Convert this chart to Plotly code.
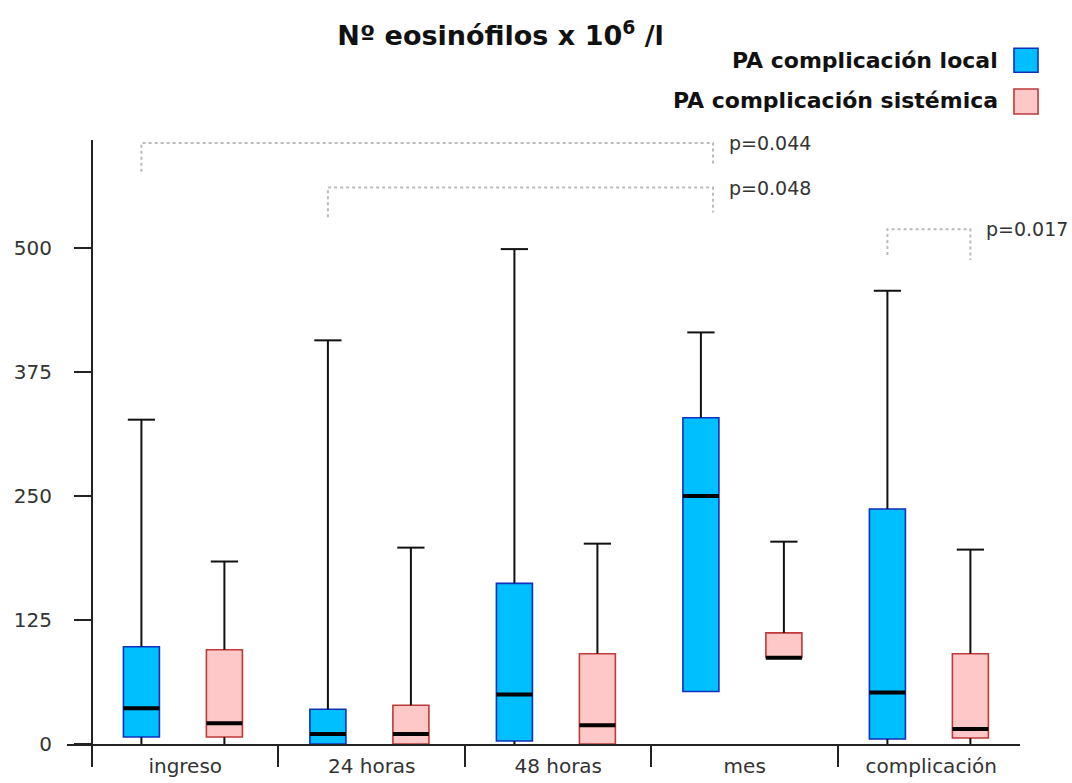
import plotly.graph_objects as go

# ---------------- data ----------------
categories = ["ingreso", "24 horas", "48 horas", "mes", "complicación"]
series_names = ["PA complicación local", "PA complicación sistémica"]

local_low = [0, 0, 0, 53, 0]
local_q1 = [7, 0, 3, 53, 5]
local_median = [36, 10, 50, 250, 52]
local_q3 = [98, 35, 162, 329, 237]
local_high = [327, 407, 499, 415, 457]

sist_low = [0, 0, 0, 87, 0]
sist_q1 = [7, 0, 0, 87, 6]
sist_median = [21, 10, 19, 87, 15]
sist_q3 = [95, 39, 91, 112, 91]
sist_high = [184, 198, 202, 204, 196]

y_tickvals = [0, 125, 250, 375, 500]

# significance brackets: (left category idx, left series idx, right x, top, left leg end, right leg end, label)
brackets = [
    (0, 0, 2.83, 606, 577, 584, "p=0.044"),
    (1, 0, 2.83, 561, 531, 536, "p=0.048"),
    (4, 0, None, 519, 493, 488, "p=0.017"),
]

# ---------------- styling ----------------
fills = ["#00BFFF", "#FFC8C8"]
outlines = ["#1030C0", "#C03838"]
offsets = [-0.235, 0.21]
box_w = 0.193
cap_half = 0.073

series = [
    (local_low, local_q1, local_median, local_q3, local_high),
    (sist_low, sist_q1, sist_median, sist_q3, sist_high),
]

fig = go.Figure()

# whiskers
for s, (lo, q1, med, q3, hi) in enumerate(series):
    xs, ys = [], []
    for i in range(len(categories)):
        x = i + offsets[s]
        xs += [x, x, None, x - cap_half, x + cap_half, None]
        ys += [q3[i], hi[i], None, hi[i], hi[i], None]
        if lo[i] < q1[i]:
            xs += [x, x, None]
            ys += [lo[i], q1[i], None]
    fig.add_trace(go.Scatter(x=xs, y=ys, mode="lines",
                             line=dict(color="#111111", width=2),
                             showlegend=False, hoverinfo="skip"))

# boxes
for s, (lo, q1, med, q3, hi) in enumerate(series):
    xs = [i + offsets[s] for i in range(len(categories))]
    fig.add_trace(go.Bar(x=xs, base=q1, y=[b - a for a, b in zip(q1, q3)],
                         width=box_w, name=series_names[s],
                         marker=dict(color=fills[s], line=dict(color=outlines[s], width=1.6)),
                         showlegend=False))

# medians
for s, (lo, q1, med, q3, hi) in enumerate(series):
    xs, ys = [], []
    for i in range(len(categories)):
        x = i + offsets[s]
        xs += [x - box_w / 2, x + box_w / 2, None]
        ys += [med[i], med[i], None]
    fig.add_trace(go.Scatter(x=xs, y=ys, mode="lines",
                             line=dict(color="#000000", width=4),
                             showlegend=False, hoverinfo="skip"))

# significance brackets
annotations = []
for (ci, si, xr, top, lleg, rleg, label) in brackets:
    xl = ci + offsets[si]
    if xr is None:
        xr = ci + offsets[1]
    fig.add_trace(go.Scatter(x=[xl, xl, xr, xr], y=[lleg, top, top, rleg], mode="lines",
                             line=dict(color="#BBBBBB", width=2, dash="dot"),
                             showlegend=False, hoverinfo="skip", cliponaxis=False))
    annotations.append(dict(x=xr, y=top, xref="x", yref="y", text=label, showarrow=False,
                            xanchor="left", yanchor="middle", xshift=14,
                            font=dict(family="DejaVu Sans", size=19, color="#333333")))

# legend (text on left, swatch on right)
leg_y = [1.131, 1.066]
for s in range(2):
    annotations.append(dict(x=0.979, y=leg_y[s], xref="paper", yref="paper",
                            text="<b>" + series_names[s] + "</b>", showarrow=False,
                            xanchor="right", yanchor="middle",
                            font=dict(family="DejaVu Sans", size=22, color="#111111")))

shapes = []
sw = [(1.1518, 1.1121), (1.0844, 1.0430)]
for s in range(2):
    shapes.append(dict(type="rect", xref="paper", yref="paper",
                       x0=0.9937, x1=1.0189, y0=sw[s][1], y1=sw[s][0],
                       fillcolor=fills[s], line=dict(color=outlines[s], width=1.6)))

fig.update_layout(
    width=1072, height=783,
    margin=dict(l=67, r=52, t=140, b=39, autoexpand=False),
    paper_bgcolor="white", plot_bgcolor="white",
    barmode="overlay",
    title=dict(text="<b>Nº eosinófilos x 10<sup>6</sup> /l</b>", x=0.467, xanchor="center",
               y=0.954, yanchor="middle",
               font=dict(family="DejaVu Sans", size=27, color="#111111")),
    annotations=annotations,
    shapes=shapes,
    showlegend=False,
    xaxis=dict(range=[-0.634, 4.476], showgrid=False, zeroline=False, automargin=False,
               showline=True, linecolor="#222222", linewidth=2,
               tickmode="array", tickvals=list(range(len(categories))), ticktext=categories,
               ticks="outside", ticklen=3, tickcolor="rgba(0,0,0,0)",
               tickfont=dict(family="DejaVu Sans", size=20, color="#333333"),
               minor=dict(tickmode="array", tickvals=[i - 0.5 for i in range(len(categories))],
                          ticks="outside", ticklen=21, tickwidth=2, tickcolor="#222222",
                          showgrid=False)),
    yaxis=dict(range=[0, 609], showgrid=False, zeroline=False, automargin=False,
               showline=True, linecolor="#222222", linewidth=2,
               anchor="free", position=25 / 953,
               tickmode="array", tickvals=y_tickvals,
               ticks="outside", ticklen=17, tickwidth=2, tickcolor="#222222",
               ticklabelstandoff=18,
               tickfont=dict(family="DejaVu Sans", size=20, color="#333333")),
)

fig.write_html("out.html")
